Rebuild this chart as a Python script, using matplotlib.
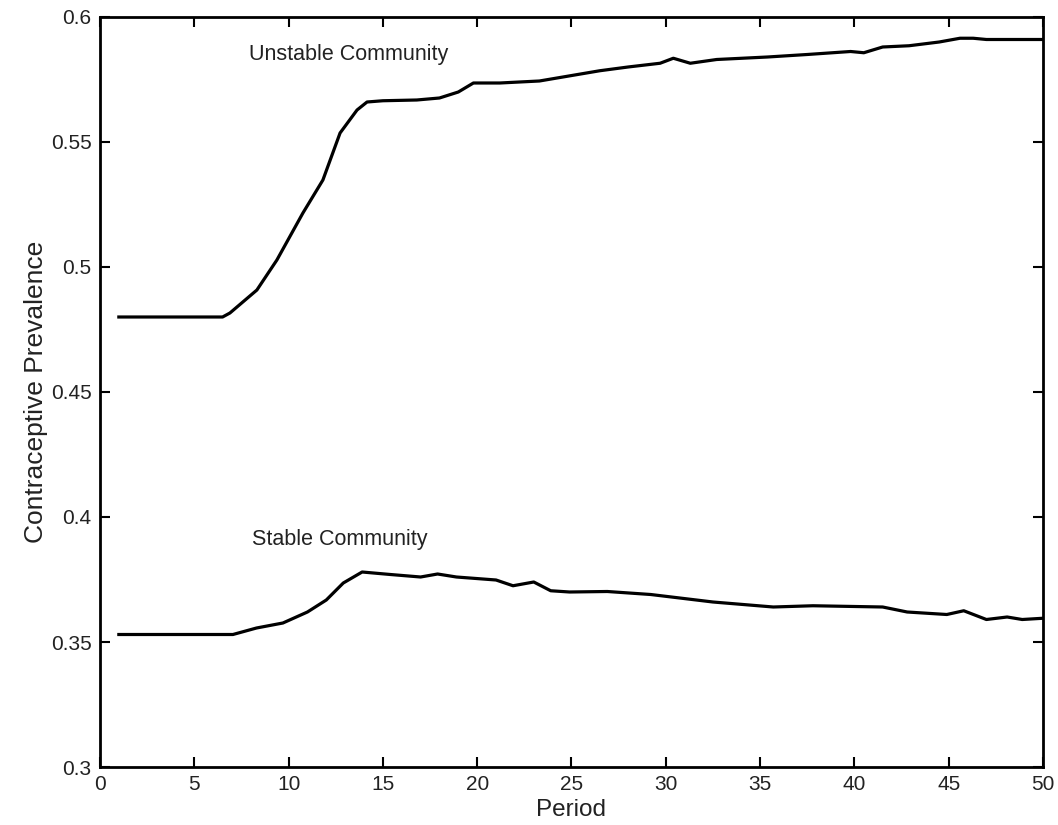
import matplotlib
matplotlib.use('Agg')
from matplotlib import pyplot as plt

# period / prevalence pairs
unstable_period = [1, 6.5, 6.89, 8.32, 9.38, 10.76, 11.82, 12.73, 13.63, 14.16, 15, 16.8,
                   18.0, 19.0, 19.8, 21.2, 23.3, 26.5, 28, 29.7, 30.4, 31.3, 32.7,
                   35.4, 37.5, 39.8, 40.5, 41.5, 42.9, 44.5, 45.6, 46.3, 47, 48.1, 50]
unstable_value = [0.480, 0.480, 0.4816, 0.4908, 0.5028, 0.5216, 0.5348, 0.5536, 0.5628,
                  0.5660, 0.5665, 0.5668, 0.5676, 0.5700, 0.5736, 0.5736, 0.5744,
                  0.5785, 0.5800, 0.5815, 0.5835, 0.5815, 0.5830, 0.5840, 0.5850,
                  0.5862, 0.5857, 0.5880, 0.5885, 0.5900, 0.5915, 0.5915, 0.5910,
                  0.5910, 0.5910]

stable_period = [1, 7.05, 8.3, 9.7, 11.0, 12.0, 12.9, 13.9, 15.4, 17.0, 17.9, 18.9,
                 21.0, 21.9, 23.0, 23.9, 24.9, 26.9, 29.2, 32.5, 35.7, 37.8, 41.5,
                 42.8, 44.9, 45.8, 47.0, 48.1, 48.9, 50]
stable_value = [0.353, 0.353, 0.3556, 0.3576, 0.3620, 0.3668, 0.3736, 0.3780, 0.3770,
                0.3760, 0.3772, 0.3760, 0.3748, 0.3725, 0.3740, 0.3705, 0.3700,
                0.3702, 0.3690, 0.3660, 0.3640, 0.3645, 0.3640, 0.3620, 0.3610,
                0.3625, 0.3590, 0.3600, 0.3590, 0.3595]

x_ticks = list(range(0, 51, 5))
y_ticks = [0.3, 0.35, 0.4, 0.45, 0.5, 0.55, 0.6]
y_tick_labels = ['0.3', '0.35', '0.4', '0.45', '0.5', '0.55', '0.6']

plt.rcParams['font.family'] = ['Liberation Sans', 'DejaVu Sans']

fig = plt.figure(figsize=(10.58, 8.25), dpi=100)
ax = fig.add_axes([0.0945, 0.0703, 0.8913, 0.9091])

ax.plot(unstable_period, unstable_value, color='black', lw=2.3)
ax.plot(stable_period, stable_value, color='black', lw=2.3)

ax.text(13.2, 0.585, 'Unstable Community', ha='center', va='center', fontsize=15.5,
        color='#222222')
ax.text(12.7, 0.391, 'Stable Community', ha='center', va='center', fontsize=15.5,
        color='#222222')

ax.set_xlim(0, 50)
ax.set_ylim(0.3, 0.6)
ax.set_xticks(x_ticks)
ax.set_yticks(y_ticks)
ax.set_yticklabels(y_tick_labels)
ax.tick_params(direction='in', length=7, width=1.5, top=True, right=True,
               labelsize=15, pad=6, labelcolor='#222222')
for side in ax.spines.values():
    side.set_linewidth(2)

ax.set_xlabel('Period', fontsize=17.5, labelpad=3, color='#222222')
ax.set_ylabel('Contraceptive Prevalence', fontsize=19, labelpad=2, color='#222222')

fig.savefig('out.png', dpi=100)
